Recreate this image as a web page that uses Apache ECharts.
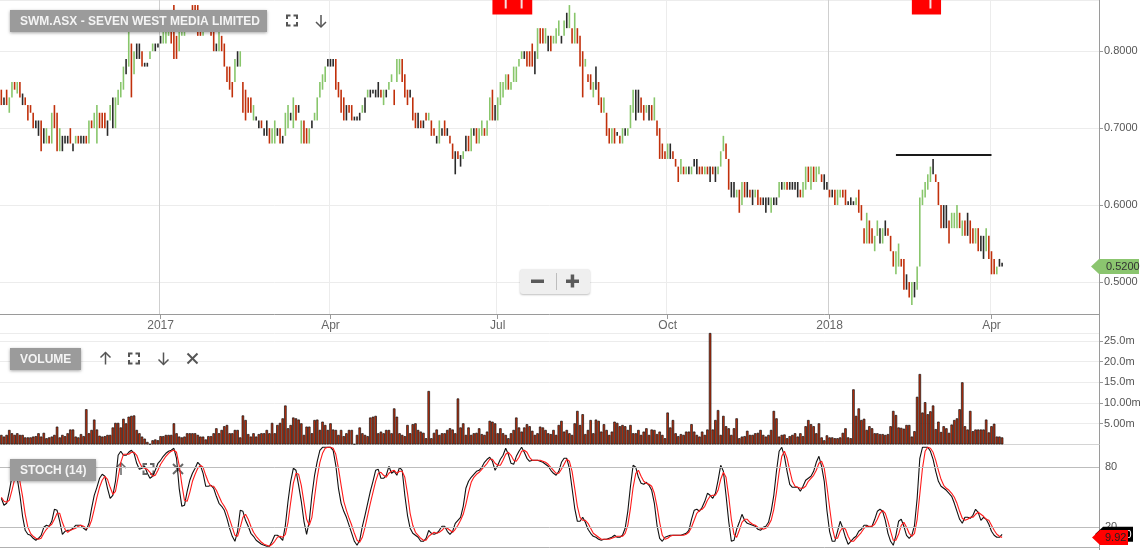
<!DOCTYPE html>
<html><head><meta charset="utf-8">
<script src="https://cdn.jsdelivr.net/npm/echarts/dist/echarts.min.js"></script>
<style>html,body{margin:0;padding:0;background:#fff}#c{width:1147px;height:550px}</style>
</head><body><div id="c"></div>
<script>
// ---------- data ----------
const slotCount = 414;                       // trading-day slots on the x axis (data + empty right margin)
const tickIdx = [60, 124, 187, 251, 312, 373];
const tickLabels = ['2017', 'Apr', 'Jul', 'Oct', '2018', 'Apr'];
const yearIdx = [60, 312];

// price bars: [open, close, low, high]
const ohlc = [
[.75,.73,.73,.75],[.735,.735,.73,.74],[.75,.73,.73,.75],[.72,.74,.72,.74],[.74,.76,.74,.76],
[.76,.75,.75,.76],[.745,.76,.745,.76],[.76,.74,.74,.76],[.74,.74,.73,.745],[.74,.73,.73,.74],
[.73,.71,.71,.73],[.73,.72,.72,.73],[.72,.70,.70,.72],[.705,.705,.70,.71],[.70,.70,.69,.71],
[.71,.67,.67,.71],[.69,.69,.68,.70],[.68,.70,.68,.70],[.69,.68,.68,.69],[.68,.72,.68,.72],
[.73,.70,.70,.73],[.72,.67,.67,.72],[.67,.70,.67,.70],[.68,.68,.67,.69],[.685,.685,.68,.69],
[.685,.685,.68,.69],[.70,.68,.68,.70],[.675,.675,.67,.68],[.68,.69,.68,.69],[.69,.68,.68,.69],
[.685,.685,.68,.69],[.685,.685,.68,.69],[.69,.68,.68,.69],[.68,.71,.68,.71],[.71,.70,.70,.71],
[.70,.72,.70,.72],[.68,.73,.68,.73],[.72,.70,.70,.72],[.72,.70,.70,.72],[.72,.70,.70,.72],
[.70,.70,.69,.71],[.71,.73,.71,.73],[.72,.72,.70,.74],[.70,.74,.70,.74],[.73,.75,.73,.75],
[.74,.76,.74,.76],[.75,.78,.75,.78],[.78,.78,.77,.79],[.78,.83,.78,.83],[.81,.74,.74,.81],
[.77,.80,.77,.80],[.80,.80,.79,.81],[.80,.80,.79,.81],[.80,.78,.78,.80],[.78,.78,.78,.785],
[.78,.78,.78,.785],[.79,.80,.79,.80],[.80,.81,.80,.81],[.805,.805,.80,.81],[.81,.81,.805,.81],
[.815,.815,.81,.82],[.81,.83,.81,.83],[.81,.835,.81,.835],[.82,.84,.82,.84],[.83,.81,.81,.83],
[.86,.79,.79,.86],[.82,.79,.79,.82],[.80,.83,.80,.83],[.82,.83,.82,.83],[.82,.84,.82,.84],
[.83,.84,.83,.84],[.83,.85,.83,.85],[.86,.84,.84,.86],[.86,.83,.83,.86],[.86,.82,.82,.86],
[.83,.82,.82,.83],[.82,.84,.82,.84],[.83,.85,.83,.85],[.85,.83,.83,.85],[.84,.82,.82,.84],
[.83,.80,.80,.83],[.805,.805,.80,.81],[.80,.83,.80,.83],[.82,.80,.80,.82],[.81,.78,.78,.81],
[.78,.76,.76,.78],[.78,.75,.75,.78],[.76,.74,.74,.76],[.76,.79,.76,.79],[.79,.79,.78,.80],
[.78,.80,.78,.80],[.76,.72,.72,.76],[.75,.71,.71,.75],[.74,.72,.72,.74],[.74,.72,.72,.74],
[.71,.73,.71,.73],[.71,.71,.71,.715],[.705,.705,.70,.71],[.71,.70,.70,.71],[.695,.695,.69,.70],
[.70,.70,.69,.71],[.70,.68,.68,.70],[.68,.70,.68,.70],[.68,.71,.68,.71],[.695,.695,.69,.70],
[.70,.68,.68,.70],[.685,.685,.68,.69],[.69,.72,.69,.72],[.70,.73,.70,.73],[.715,.715,.71,.72],
[.70,.74,.70,.74],[.73,.71,.71,.73],[.725,.725,.72,.73],[.68,.71,.68,.71],[.71,.68,.68,.71],
[.70,.68,.68,.70],[.68,.70,.68,.70],[.705,.705,.70,.71],[.71,.72,.71,.72],[.71,.74,.71,.74],
[.74,.76,.74,.76],[.75,.77,.75,.77],[.76,.78,.76,.78],[.785,.785,.78,.79],[.785,.785,.78,.79],
[.785,.785,.78,.79],[.79,.75,.75,.79],[.76,.74,.74,.76],[.75,.72,.72,.75],[.74,.71,.71,.74],
[.72,.72,.71,.73],[.73,.72,.72,.73],[.73,.71,.71,.73],[.71,.71,.71,.715],[.71,.71,.71,.715],
[.715,.715,.71,.72],[.72,.73,.72,.73],[.73,.73,.72,.74],[.74,.75,.74,.75],[.745,.745,.74,.75],
[.75,.75,.745,.75],[.745,.745,.74,.75],[.75,.75,.74,.76],[.75,.74,.74,.75],[.73,.75,.73,.75],
[.745,.745,.74,.75],[.75,.76,.75,.76],[.76,.77,.76,.77],[.75,.73,.73,.75],[.76,.79,.76,.79],
[.77,.79,.77,.79],[.79,.76,.76,.79],[.77,.74,.74,.77],[.75,.73,.73,.75],[.745,.745,.74,.75],
[.74,.71,.71,.74],[.72,.70,.70,.72],[.71,.71,.70,.72],[.71,.70,.70,.71],[.705,.705,.70,.71],
[.72,.71,.71,.72],[.71,.72,.71,.72],[.71,.69,.69,.71],[.70,.69,.69,.70],[.685,.685,.68,.69],
[.68,.71,.68,.71],[.695,.695,.69,.70],[.71,.69,.69,.71],[.695,.695,.69,.70],[.69,.68,.68,.69],
[.68,.66,.66,.68],[.655,.655,.64,.67],[.67,.66,.66,.67],[.66,.66,.65,.665],[.66,.67,.66,.67],
[.68,.68,.67,.69],[.69,.67,.67,.69],[.67,.70,.67,.70],[.695,.695,.69,.70],[.70,.68,.68,.70],
[.68,.70,.68,.70],[.69,.71,.69,.71],[.70,.69,.69,.70],[.69,.71,.69,.71],[.71,.74,.71,.74],
[.75,.71,.71,.75],[.72,.72,.71,.73],[.71,.74,.71,.74],[.73,.76,.73,.76],[.74,.76,.74,.76],
[.75,.77,.75,.77],[.77,.75,.75,.77],[.75,.76,.75,.76],[.76,.78,.76,.78],[.76,.78,.76,.78],
[.78,.79,.78,.79],[.79,.80,.79,.80],[.795,.795,.79,.80],[.80,.78,.78,.80],[.80,.78,.78,.80],
[.81,.78,.78,.81],[.785,.785,.77,.80],[.79,.83,.79,.83],[.83,.81,.81,.83],[.83,.81,.81,.83],
[.81,.83,.81,.83],[.81,.81,.80,.82],[.82,.80,.80,.82],[.81,.82,.81,.82],[.81,.83,.81,.83],
[.82,.84,.82,.84],[.815,.815,.81,.82],[.82,.84,.82,.84],[.84,.84,.83,.85],[.83,.86,.83,.86],
[.83,.81,.81,.83],[.81,.85,.81,.85],[.83,.81,.81,.83],[.82,.78,.78,.82],[.80,.74,.74,.80],
[.78,.79,.78,.79],[.77,.76,.76,.77],[.77,.75,.75,.77],[.74,.76,.74,.76],[.765,.765,.75,.78],
[.76,.73,.73,.76],[.74,.72,.72,.74],[.72,.74,.72,.74],[.72,.69,.69,.72],[.70,.68,.68,.70],
[.68,.70,.68,.70],[.70,.68,.68,.70],[.69,.69,.69,.695],[.69,.68,.68,.69],[.68,.70,.68,.70],
[.695,.695,.69,.70],[.69,.70,.69,.70],[.70,.73,.70,.73],[.72,.75,.72,.75],[.73,.73,.71,.75],
[.735,.735,.72,.75],[.74,.72,.72,.74],[.73,.71,.71,.73],[.72,.73,.72,.73],[.72,.72,.71,.73],
[.73,.71,.71,.73],[.71,.74,.71,.74],[.71,.69,.69,.71],[.70,.66,.66,.70],[.68,.66,.66,.68],
[.67,.66,.66,.67],[.66,.68,.66,.68],[.67,.67,.66,.68],[.67,.66,.66,.67],[.66,.65,.65,.66],
[.65,.63,.63,.65],[.64,.66,.64,.66],[.65,.64,.64,.65],[.64,.65,.64,.65],[.645,.645,.64,.65],
[.64,.65,.64,.65],[.655,.655,.65,.66],[.65,.65,.64,.66],[.65,.64,.64,.65],[.65,.64,.64,.65],
[.64,.65,.64,.65],[.65,.64,.64,.65],[.64,.64,.63,.65],[.65,.64,.64,.65],[.64,.64,.63,.65],
[.64,.65,.64,.65],[.65,.67,.65,.67],[.67,.69,.67,.69],[.68,.66,.66,.68],[.66,.62,.62,.66],
[.62,.62,.61,.63],[.62,.62,.61,.63],[.61,.62,.61,.62],[.62,.59,.59,.62],[.60,.63,.60,.63],
[.63,.61,.61,.63],[.62,.62,.61,.63],[.62,.61,.61,.62],[.61,.61,.60,.62],[.61,.62,.61,.62],
[.62,.60,.60,.62],[.61,.60,.60,.61],[.605,.605,.60,.61],[.60,.60,.59,.61],[.605,.605,.60,.61],
[.59,.61,.59,.61],[.605,.605,.60,.61],[.605,.605,.60,.61],[.61,.63,.61,.63],[.625,.625,.62,.63],
[.62,.63,.62,.63],[.63,.62,.62,.63],[.625,.625,.62,.63],[.625,.625,.62,.63],[.625,.625,.62,.63],
[.62,.62,.61,.63],
[.62,.61,.61,.62],[.61,.63,.61,.63],[.62,.65,.62,.65],[.65,.63,.63,.65],[.62,.65,.62,.65],
[.65,.63,.63,.65],[.63,.65,.63,.65],[.64,.65,.64,.65],[.64,.63,.63,.64],[.63,.63,.62,.64],
[.625,.625,.62,.63],[.62,.61,.61,.62],[.615,.615,.61,.62],[.62,.60,.60,.62],[.60,.62,.60,.62],
[.61,.62,.61,.62],[.62,.61,.61,.62],[.62,.60,.60,.62],[.60,.60,.60,.605],[.605,.605,.60,.61],
[.60,.60,.60,.605],[.60,.61,.60,.61],[.62,.59,.59,.62],[.60,.58,.58,.60],[.57,.55,.55,.57],
[.55,.59,.55,.59],[.58,.55,.55,.58],[.57,.55,.55,.57],[.54,.56,.54,.56],[.56,.58,.56,.58],
[.56,.56,.55,.57],[.55,.57,.55,.57],[.57,.57,.56,.58],[.57,.56,.56,.57],[.56,.54,.54,.56],
[.54,.52,.52,.54],[.51,.54,.51,.54],[.52,.55,.52,.55],[.53,.52,.52,.53],[.53,.49,.49,.53],
[.50,.50,.49,.51],[.50,.48,.48,.50],[.47,.50,.47,.50],[.49,.49,.48,.50],[.49,.52,.49,.52],
[.52,.61,.52,.61],[.60,.62,.60,.62],[.61,.63,.61,.63],[.62,.64,.62,.64],[.63,.65,.63,.65],
[.65,.65,.64,.66],[.64,.63,.63,.64],[.63,.60,.60,.63],[.60,.57,.57,.60],[.585,.585,.57,.60],
[.585,.585,.57,.60],[.58,.55,.55,.58],[.57,.59,.57,.59],[.57,.59,.57,.59],[.57,.60,.57,.60],
[.59,.57,.57,.59],[.56,.58,.56,.58],[.58,.56,.56,.58],[.575,.575,.56,.59],[.58,.55,.55,.58],
[.57,.55,.55,.57],[.55,.57,.55,.57],[.57,.54,.54,.57],[.55,.55,.54,.56],[.545,.545,.53,.56],
[.54,.57,.54,.57],[.56,.53,.53,.56],[.54,.51,.51,.54],[.53,.51,.51,.53],[.51,.52,.51,.52],
[.525,.525,.52,.53],[.52,.52,.52,.525]
];

// volume, millions of shares
const volume = [
2.3,1.9,2.3,3.5,2.7,2.3,2.7,2.3,2.3,1.7,1.7,1.7,1.9,2.0,2.7,1.9,2.8,1.5,1.7,1.9,
2.3,4.3,1.7,2.3,2.0,2.7,3.6,3.6,1.9,1.7,2.5,2.0,8.5,2.7,3.5,6.0,3.6,2.1,1.9,2.0,
2.3,2.3,4.1,5.2,5.2,4.1,6.2,5.1,6.7,6.9,7.0,3.5,2.7,1.9,1.4,0.6,0.1,1.0,1.2,1.0,
2.0,2.0,2.3,2.3,2.3,5.1,2.7,1.9,1.7,1.9,2.7,2.7,2.7,2.7,2.3,1.9,1.9,1.2,2.0,2.0,
2.7,3.9,2.7,3.5,4.4,4.7,2.7,2.7,3.5,3.5,1.7,7.0,5.9,2.5,1.9,2.7,1.9,2.5,2.7,2.7,
3.5,2.7,5.2,2.7,4.7,5.2,6.3,9.4,3.9,4.7,6.5,6.3,6.0,5.1,2.3,4.3,4.3,2.7,5.9,6.0,
3.5,5.5,4.7,3.5,5.1,3.6,3.5,2.3,3.5,2.0,2.7,3.5,3.5,0.1,2.3,4.1,2.7,2.3,2.0,6.5,
6.7,6.9,2.7,3.1,2.7,3.5,3.5,2.7,8.7,6.7,
2.7,2.3,2.0,4.7,2.7,4.9,5.1,3.5,3.1,2.8,1.5,12.9,1.5,2.8,3.6,2.3,2.7,2.7,
3.5,3.9,3.6,2.7,11.1,4.1,5.1,2.3,4.1,2.3,2.7,2.8,3.9,2.5,2.3,3.1,5.7,5.5,5.1,
2.7,3.9,2.7,2.3,1.5,2.7,3.5,6.5,4.1,3.1,4.1,4.9,4.4,3.3,
2.3,2.7,4.3,4.1,3.5,2.7,2.5,3.5,2.3,4.7,5.7,3.1,3.5,2.7,
2.3,5.1,8.1,4.7,7.3,2.5,3.5,5.9,2.7,6.0,5.7,3.1,4.9,3.5,
2.3,3.1,5.5,5.2,4.4,4.7,4.4,3.5,4.7,2.7,2.7,3.5,2.3,3.1,
3.9,2.3,3.6,3.5,2.5,3.1,2.3,1.5,7.7,4.1,5.9,2.7,2.0,2.5,
2.3,3.1,3.1,4.9,3.1,2.3,1.9,3.1,2.3,3.6,26.9,3.6,5.9,8.3,2.3,6.9,4.4,3.9,2.3,3.9,6.3,1.5,1.9,2.0,
3.3,2.3,2.3,2.7,2.8,3.5,2.3,1.9,2.3,3.5,8.1,6.3,1.9,2.3,2.4,1.5,2.0,2.3,2.7,1.9,
2.7,2.0,4.4,5.9,4.9,4.4,2.7,5.1,1.7,
1.0,2.2,1.7,1.7,1.5,1.5,1.7,
2.8,3.9,1.7,1.5,13.3,6.9,8.7,5.9,6.2,3.5,4.4,3.9,2.7,2.7,2.5,2.5,2.3,2.5,4.4,8.1,7.1,
4.1,4.0,3.8,4.7,4.7,1.9,3.2,11.5,17.0,7.7,10.2,7.3,8.0,9.4,3.7,5.5,3.0,4.4,3.9,
2.8,4.8,5.9,6.3,8.5,15.0,4.4,3.6,8.1,3.2,3.6,3.6,3.6,3.6,6.0,2.9,4.4,5.0,1.9,1.9,1.7
];

// Stochastic (14): %K (black) and %D (red)
const stochK = [
49,42,44,56,71,77,69,52,31,17, 13,12,9,7,9,12,20,22,21,26, 38,37,26,13,16,17,17,19,22,22,
22,19,17,24,39,52,60,69,73,71, 59,49,52,66,92,96,92,92,95,97, 94,84,78,79,81,74,69,71,77,84,
87,91,94,96,97,99,89,59,41,42, 56,67,74,79,85,82,74,61,61,62, 59,51,44,41,37,29,19,11,6,16,
37,36,27,21,14,11,7,5,3,2, 1,1,6,12,12,10,7,22,46,66, 79,77,62,46,26,13,26,52,72,86,
97,100,100,100,100,97,82,59,44,36, 30,22,14,6,2,7,21,32,44,56, 66,77,78,69,69,72,81,74,76,72,
80,77,52,32,19,14,12,10,6,6, 9,17,14,13,14,17,21,21,16,13, 16,24,27,30,41,59,66,70,73,76,
77,80,85,88,90,86,77,82,88,92, 99,93,84,83,91,96,100,95,89,86, 87,87,87,86,85,83,81,77,74,72,
76,85,89,89,79,59,39,26,26,30, 25,18,14,11,10,8,7,8,8,9, 10,12,10,10,12,19,36,61,82,80,
70,64,63,65,62,57,44,22,9,6, 10,11,12,12,12,12,12,13,14,17, 28,37,38,36,40,46,54,52,49,54,
67,82,76,52,26,6,7,18,25,33, 27,24,23,22,21,18,17,20,21,25, 36,52,76,96,100,91,76,63,60,60,
60,56,61,67,69,71,76,85,91,81, 66,37,16,6,6,16,26,19,10,3, 6,9,11,16,18,22,22,20,21,28,
36,38,36,27,14,6,2,12,26,28, 21,12,9,12,22,49,89,100,100,100, 96,88,76,66,61,59,57,54,51,44,
36,28,24,30,30,29,32,38,35,27, 30,28,23,16,12,10,10,13
];
const stochD = [
50,46,45,47,57,68,72,66,51,33, 20,14,11,9,8,9,14,18,21,23, 28,34,34,25,18,15,17,18,19,21,
22,21,19,20,27,38,50,60,67,71, 68,60,53,56,70,85,93,93,93,95, 95,92,85,80,79,78,75,71,72,77,
83,87,91,94,96,97,95,82,63,47, 46,55,66,73,79,82,80,72,65,61, 61,57,51,45,41,36,28,20,12,11,
20,30,33,28,21,15,11,8,5,3, 2,1,3,6,10,11,10,13,25,45, 64,74,73,62,45,28,22,30,50,70,
85,94,99,100,100,99,93,79,62,46, 37,29,22,14,7,5,10,20,32,44, 55,66,74,75,72,70,74,76,77,74,
76,76,70,54,34,22,15,12,9,7, 7,11,13,15,14,15,17,20,19,17, 15,18,22,27,33,43,55,65,70,73,
75,78,81,84,88,88,84,82,82,87, 93,95,92,87,86,90,96,97,95,90, 87,87,87,87,86,85,83,80,77,74,
74,78,83,88,86,76,59,41,30,27, 27,24,19,14,12,10,8,8,8,8, 9,10,11,11,11,14,22,39,60,74,
77,71,66,64,63,61,54,41,25,12, 8,9,11,12,12,12,12,12,13,15, 20,27,34,37,38,41,47,51,52,52,
57,68,75,70,51,28,13,10,17,25, 28,28,25,23,22,20,19,18,19,22, 27,38,55,75,91,96,89,77,66,61,
60,59,59,61,66,69,72,77,84,86, 79,61,40,20,9,9,16,20,18,11, 6,6,9,12,15,19,21,21,21,23,
28,34,37,34,26,16,7,7,13,22, 25,20,14,11,14,28,53,79,96,100, 99,95,87,77,68,62,59,57,54,50,
44,36,29,27,28,30,30,33,35,33, 31,28,27,22,17,13,11,9.92
];

const resistance = [337, 373, 0.665];          // [from index, to index, price]
const flagSpans = [[185, 200], [343, 354]];      // event flags at top (index spans)
const flagMarks = [[190, 196], [350]];
const volTickLabels = ['5.00m', '10.00m', '15.0m', '20.0m', '25.0m'];
const stochLevels = [80, 20];

// ---------- chart ----------
const UP = '#88c66b', DOWN = '#c1300b', FLAT = '#2a2a2a';
const FONT = '"Liberation Sans", Arial, sans-serif';
const cats = Array.from({length: slotCount}, (_, i) => String(i));
const isTick = (i) => tickIdx.indexOf(i) >= 0;
const isYear = (i) => yearIdx.indexOf(i) >= 0;

const chart = echarts.init(document.getElementById('c'), null, {renderer: 'canvas'});
const gridBase = {left: 0, width: 1099, containLabel: false, outerBoundsMode: 'none'};

chart.setOption({
  animation: false,
  backgroundColor: '#fff',
  grid: [
    Object.assign({top: 0, height: 314}, gridBase),
    Object.assign({top: 333, height: 111.4}, gridBase),
    Object.assign({top: 445, height: 105}, gridBase)
  ],
  xAxis: [
    {type: 'category', gridIndex: 0, data: cats, boundaryGap: true, position: 'bottom',
     axisLine: {show: true, lineStyle: {color: '#9a9a9a', width: 1}},
     axisTick: {show: true, interval: isTick, alignWithLabel: true, length: 5, lineStyle: {color: '#9a9a9a'}},
     axisLabel: {show: true, interval: isTick, color: '#666', fontSize: 12, fontFamily: FONT, margin: 6,
       formatter: (v, i) => { const k = tickIdx.indexOf(Number(v)); return k >= 0 ? tickLabels[k] : ''; }},
     splitLine: {show: true, interval: isTick, lineStyle: {color: '#ececec', width: 1}}},
    {type: 'category', gridIndex: 1, data: cats, boundaryGap: true, position: 'top',
     axisLine: {show: true, lineStyle: {color: '#d4d4d4'}}, axisTick: {show: false},
     axisLabel: {show: false}, splitLine: {show: false}},
    {type: 'category', gridIndex: 2, data: cats, boundaryGap: true, position: 'top',
     axisLine: {show: true, lineStyle: {color: '#b0b0b0'}}, axisTick: {show: false},
     axisLabel: {show: false}, splitLine: {show: false}},
    {type: 'category', gridIndex: 0, data: cats, boundaryGap: true, position: 'top',
     axisLine: {show: false}, axisTick: {show: false}, axisLabel: {show: false},
     splitLine: {show: true, interval: isYear, lineStyle: {color: '#cfcfcf', width: 1}}}
  ],
  yAxis: [
    {type: 'value', gridIndex: 0, position: 'right', min: 0.4584, max: 0.8666, splitNumber: 4,
     axisLine: {show: true, lineStyle: {color: '#9a9a9a'}},
     axisTick: {show: true, length: 4, lineStyle: {color: '#9a9a9a'}},
     axisLabel: {color: '#555', fontSize: 11, fontFamily: FONT, margin: 5, showMinLabel: false, showMaxLabel: false,
       formatter: (v) => v.toFixed(4)},
     splitLine: {show: true, lineStyle: {color: '#ececec'}}},
    {type: 'value', gridIndex: 1, position: 'right', min: 0, max: 26.9, interval: 5,
     axisLine: {show: true, lineStyle: {color: '#9a9a9a'}},
     axisTick: {show: true, length: 4, lineStyle: {color: '#9a9a9a'}},
     axisLabel: {color: '#555', fontSize: 11, fontFamily: FONT, margin: 5, showMinLabel: false, showMaxLabel: false,
       formatter: (v) => volTickLabels[Math.round(v / 5) - 1] || ''},
     splitLine: {show: true, lineStyle: {color: '#ececec'}}},
    {type: 'value', gridIndex: 2, position: 'right', min: -2.7, max: 102.3,
     axisLine: {show: true, lineStyle: {color: '#9a9a9a'}}, axisTick: {show: false},
     axisLabel: {show: false}, splitLine: {show: false}}
  ],
  series: [
    {type: 'custom', name: 'price', xAxisIndex: 0, yAxisIndex: 0, clip: true,
     data: ohlc.map((d, i) => [i, d[0], d[1], d[2], d[3]]),
     encode: {x: 0, y: [3, 4]},
     renderItem: (params, api) => {
       const i = api.value(0), o = api.value(1), c = api.value(2);
       const pl = api.coord([i, api.value(3)]), ph = api.coord([i, api.value(4)]);
       const col = c > o ? UP : (c < o ? DOWN : FLAT);
       const h = Math.max(pl[1] - ph[1], 1.5);
       return {type: 'rect', shape: {x: pl[0] - 0.8, y: ph[1], width: 1.6, height: h}, style: {fill: col}};
     },
     markLine: {silent: true, symbol: 'none', label: {show: false},
       lineStyle: {color: '#1a1a1a', width: 2, type: 'solid'},
       data: [[{coord: [String(resistance[0]), resistance[2]]}, {coord: [String(resistance[1]), resistance[2]]}]]}},
    {type: 'bar', name: 'volume', xAxisIndex: 1, yAxisIndex: 1, data: volume, barWidth: 2.5,
     itemStyle: {color: '#c4300c', borderColor: '#111', borderWidth: 0.7}},
    {type: 'line', name: 'K', xAxisIndex: 2, yAxisIndex: 2, data: stochK, showSymbol: false, symbol: 'none',
     lineStyle: {color: '#111', width: 1.1}, z: 3,
     markLine: {silent: true, symbol: 'none', lineStyle: {color: '#bdbdbd', width: 1, type: 'solid'},
       label: {show: true, position: 'end', formatter: (p) => String(p.value), color: '#555', fontSize: 11, fontFamily: FONT, distance: 6},
       data: stochLevels.map(v => ({yAxis: v}))}},
    {type: 'line', name: 'D', xAxisIndex: 2, yAxisIndex: 2, data: stochD, showSymbol: false, symbol: 'none',
     lineStyle: {color: '#ff1a1a', width: 1.1}, z: 4}
  ]
});

// ---------- decorations ----------
function fsIcon(cx, cy, color, z) {
  const s = 5, a = 3.5, st = {stroke: color, lineWidth: 2, fill: null};
  return [
    [[cx - s, cy - s + a], [cx - s, cy - s], [cx - s + a, cy - s]],
    [[cx + s - a, cy - s], [cx + s, cy - s], [cx + s, cy - s + a]],
    [[cx - s, cy + s - a], [cx - s, cy + s], [cx - s + a, cy + s]],
    [[cx + s - a, cy + s], [cx + s, cy + s], [cx + s, cy + s - a]]
  ].map(p => ({type: 'polyline', z: z, shape: {points: p}, style: st}));
}
function arrowIcon(cx, cy, up, color, z) {
  const st = {stroke: color, lineWidth: 1.5, fill: null};
  const d = up ? -1 : 1;
  return [
    {type: 'line', z: z, shape: {x1: cx, y1: cy - 6 * d, x2: cx, y2: cy + 6 * d}, style: st},
    {type: 'polyline', z: z, shape: {points: [[cx - 5, cy + 1 * d], [cx, cy + 6 * d], [cx + 5, cy + 1 * d]]}, style: st}
  ];
}
function crossIcon(cx, cy, color, z) {
  const st = {stroke: color, lineWidth: 2};
  return [
    {type: 'line', z: z, shape: {x1: cx - 5, y1: cy - 5, x2: cx + 5, y2: cy + 5}, style: st},
    {type: 'line', z: z, shape: {x1: cx - 5, y1: cy + 5, x2: cx + 5, y2: cy - 5}, style: st}
  ];
}
function labelBox(x, y, w, h, text) {
  return [
    {type: 'rect', z: 100, shape: {x: x, y: y, width: w, height: h},
     style: {fill: '#9b9b9b', shadowBlur: 3, shadowColor: 'rgba(0,0,0,0.35)', shadowOffsetY: 1}},
    {type: 'text', z: 101, x: x + 10, y: y + h / 2 + 0.5,
     style: {text: text, fill: '#f4f4f4', font: 'bold 12px ' + FONT, verticalAlign: 'middle', align: 'left'}}
  ];
}
function tag(xTip, xRight, y, fill, text, textFill, textX, z) {
  return [
    {type: 'polygon', z: z, shape: {points: [[xTip, y], [xTip + 8, y - 7.5], [xRight, y - 7.5], [xRight, y + 7.5], [xTip + 8, y + 7.5]]},
     style: {fill: fill}},
    {type: 'text', z: z + 1, x: textX, y: y + 0.5,
     style: {text: text, fill: textFill, font: '11px ' + FONT, verticalAlign: 'middle', align: 'left'}}
  ];
}

const px = (i) => chart.convertToPixel({xAxisIndex: 0}, String(i));
const g = [];
// title + panel labels
g.push(...labelBox(10, 10, 257, 22, 'SWM.ASX - SEVEN WEST MEDIA LIMITED'));
g.push(...fsIcon(292, 20.5, '#555', 100), ...arrowIcon(321, 21, false, '#555', 100));
g.push(...labelBox(10, 348, 71, 22, 'VOLUME'));
g.push(...arrowIcon(105.5, 358.5, true, '#555', 100), ...fsIcon(134, 358.5, '#555', 100),
       ...arrowIcon(163.5, 358.5, false, '#555', 100), ...crossIcon(192.5, 358.5, '#555', 100));
g.push(...arrowIcon(121, 469, true, '#666', 1), ...fsIcon(148.5, 469, '#666', 1), ...crossIcon(178, 469, '#666', 1));
g.push(...labelBox(10, 459, 86, 22, 'STOCH (14)'));
// right axis continuity between panels
g.push({type: 'line', z: 5, shape: {x1: 1099.5, y1: 314, x2: 1099.5, y2: 333}, style: {stroke: '#9a9a9a', lineWidth: 1}});
// event flags
flagSpans.forEach((sp, k) => {
  const x0 = px(sp[0]), x1 = px(sp[1]);
  g.push({type: 'rect', z: 100, shape: {x: x0, y: 0, width: x1 - x0, height: 14.5}, style: {fill: '#ff0000'}});
  flagMarks[k].forEach(m => {
    const xm = px(m);
    g.push({type: 'rect', z: 101, shape: {x: xm - 1, y: 0, width: 2, height: 8.5}, style: {fill: '#f6dede'}});
  });
});
// zoom control
g.push({type: 'rect', z: 100, shape: {x: 520, y: 269, width: 70, height: 25, r: 3},
        style: {fill: '#efefef', shadowBlur: 2, shadowColor: 'rgba(0,0,0,0.25)', shadowOffsetY: 1}});
g.push({type: 'rect', z: 101, shape: {x: 531, y: 279.5, width: 13, height: 3.5}, style: {fill: '#5a5a5a'}});
g.push({type: 'rect', z: 101, shape: {x: 566, y: 279.5, width: 13, height: 3.5}, style: {fill: '#5a5a5a'}});
g.push({type: 'rect', z: 101, shape: {x: 570.7, y: 274.5, width: 3.5, height: 13}, style: {fill: '#5a5a5a'}});
g.push({type: 'line', z: 101, shape: {x1: 556.5, y1: 273, x2: 556.5, y2: 290}, style: {stroke: '#bdbdbd', lineWidth: 1}});
// last-value tags
const last = ohlc.length - 1;
const yPrice = chart.convertToPixel({yAxisIndex: 0}, ohlc[last][1]);
g.push(...tag(1091, 1139, yPrice, '#8bc56f', ohlc[last][1].toFixed(4), '#333', 1106, 110));
const yK = chart.convertToPixel({yAxisIndex: 2}, stochK[last]);
const yD = chart.convertToPixel({yAxisIndex: 2}, stochD[last]);
g.push(...tag(1095, 1133, yK, '#000', stochK[last].toFixed(2), '#fff', 1104, 110));
g.push(...tag(1092, 1128, yD, '#ff0000', String(stochD[last]), '#222', 1105, 120));

chart.setOption({graphic: {elements: g}});
</script>
</body></html>
